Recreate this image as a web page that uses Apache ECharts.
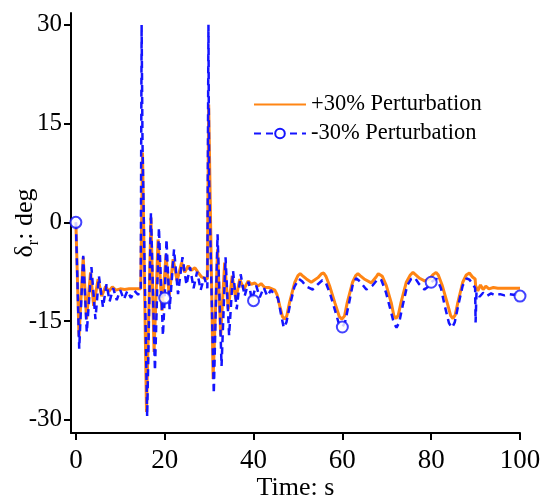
<!DOCTYPE html>
<html>
<head>
<meta charset="utf-8">
<script src="https://cdn.jsdelivr.net/npm/echarts@6/dist/echarts.min.js"></script>
<style>
html,body{margin:0;padding:0;background:#fff;}
#c{width:548px;height:501px;}
</style>
</head>
<body>
<div id="c"></div>
<script>
// ---- Data ----
var seriesNames = ['+30% Perturbation', '-30% Perturbation'];
var xTicks = [0, 20, 40, 60, 80, 100];
var yTicks = [-30, -15, 0, 15, 30];
var markerTimes = [0, 20, 40, 60, 80, 100];

var plusT = [0,0.7,1.65,2.4,3.3,4.0,5.0,5.8,6.7,7.4,8.2,9.0,10,11,12,13,14,14.6,15.0,15.9,16.9,17.6,18.5,19.4,20.3,21.0,21.9,22.8,23.8,24.5,25.3,26.0,26.8,27.5,28.3,29.0,29.6,29.9,30.9,31.9,32.6,33.5,34.3,35.2,36.0,36.9,37.8,38.8,39.5,40.3,41.0,41.7,42.5,43.5,44.8,45.3,45.9,46.5,47.0,47.5,48.1,49.3,50.0,50.5,51.0,51.9,53.0,54.5,55.3,55.8,56.3,57.1,58.3,59.3,59.9,60.5,61.1,62.3,63.0,63.5,64.0,64.9,66.5,67.6,68.1,68.5,69.0,69.9,71.0,71.6,72.1,72.6,73.2,74.4,75.3,75.9,76.4,77.4,78.5,79.6,80.5,81.1,81.6,82.5,83.6,84.4,84.9,85.4,86.0,87.1,87.9,88.6,89.3,89.9,90.0,90.5,91.1,91.7,92.3,93.0,94,95,97,100];
var plusV = [0,-17.3,-5.3,-14.7,-7.6,-12.7,-8.6,-11.2,-9.7,-10.5,-9.8,-10.3,-10.1,-10.2,-10.1,-10.1,-10.1,-10.1,10.6,-28.8,0.7,-19.7,-2.6,-13.4,-4.9,-11.2,-5.6,-8.9,-6.1,-7.6,-6.6,-7.3,-6.9,-7.6,-8.3,-8.5,-8.6,17.9,-23.8,-4.1,-17.2,-6.1,-13.2,-8.1,-11.7,-8.6,-10.2,-8.9,-9.4,-9.2,-9.7,-9.3,-9.9,-9.9,-10.3,-11.0,-12.7,-14.3,-14.7,-14.2,-12.2,-9.1,-8.1,-7.8,-8.1,-8.6,-9.1,-8.4,-7.8,-7.7,-8.2,-9.6,-12.2,-14.3,-14.7,-14.2,-12.2,-9.1,-8.1,-7.8,-8.1,-8.6,-9.2,-8.3,-7.8,-7.7,-8.2,-9.6,-12.2,-14.2,-14.6,-14.1,-12.2,-9.1,-8.0,-7.6,-7.9,-8.5,-8.9,-8.6,-7.9,-7.6,-8.0,-9.6,-12.2,-14.2,-14.6,-14.1,-12.2,-9.1,-8.0,-7.7,-8.3,-8.6,-9.6,-10.4,-9.5,-10.2,-9.7,-10.1,-9.9,-10.0,-10.0,-10.0];

var minusT = [0,0.75,1.65,2.45,3.5,4.4,5.2,6.1,6.9,7.6,8.4,9.2,10.0,10.8,11.6,12.4,13.2,14.0,14.6,14.8,15.0,16.05,16.9,17.8,18.7,19.6,20.0,20.4,21.1,22.1,23.0,24.0,24.9,25.7,26.5,27.3,28.1,28.9,29.6,29.85,30.0,31.05,31.9,32.8,33.7,34.5,35.4,36.2,37.1,38.0,38.9,39.6,40.0,40.6,41.4,42.3,43.1,43.9,44.8,45.5,46.2,46.8,47.4,48.2,49.2,50.2,51.0,52.0,53.3,54.5,55.5,56.3,57.3,58.4,59.3,60.0,60.6,61.4,62.3,63.1,64.0,65.4,66.8,68.0,68.8,69.8,70.8,71.6,72.2,72.8,73.6,74.6,75.5,76.3,77.3,78.5,79.3,80.0,80.6,81.3,82.2,83.1,84.0,84.7,85.3,86.1,87.1,88.0,88.6,89.4,89.9,90.0,90.2,90.9,91.7,92.5,93.5,94.5,95.5,96.5,97.5,98.5,99.2,100];
var minusV = [0,-19.2,-5.1,-16.7,-6.8,-14.7,-8.2,-12.9,-9.4,-12.0,-10.0,-11.8,-10.3,-11.7,-10.4,-11.5,-10.4,-11.0,-10.3,30,12,-29.5,1.5,-22.5,-0.8,-17.2,-11.5,-2.6,-13.2,-4.1,-10.9,-5.3,-9.5,-6.8,-10.0,-7.5,-10.3,-8.3,-10.0,30,6.3,-26,-1.8,-21.8,-5.3,-17.2,-7.4,-13.2,-7.9,-11.2,-9.0,-11.8,-11.9,-9.6,-11.4,-9.9,-11.2,-10.3,-11.0,-11.5,-14.0,-16.0,-15.2,-12.6,-9.8,-8.6,-9.0,-9.8,-10.2,-9.4,-8.8,-9.2,-11.0,-13.5,-15.6,-15.9,-15.2,-12.6,-9.6,-8.5,-9.0,-10.2,-9.6,-8.6,-8.8,-10.6,-13.2,-15.3,-16.0,-15.2,-12.6,-9.6,-8.6,-8.4,-9.4,-10.2,-9.8,-9.1,-8.8,-8.6,-10.0,-12.8,-15.3,-16.0,-15.2,-12.6,-9.6,-8.5,-8.7,-9.4,-10.0,-15.2,-10.6,-11.3,-10.7,-11.2,-10.8,-11.1,-10.9,-11.1,-10.9,-11.0,-11.0,-11.2];

// ---- Build chart ----
var font = "'Liberation Serif','Times New Roman',serif";
var blue = '#1414ff';
var orange = '#ff8514';
var plusData = plusT.map(function(t,i){ return [t, plusV[i]]; });
var minusData = minusT.map(function(t,i){ return [t, minusV[i]]; });
var markerData = minusT.map(function(t,i){ return [t, minusV[i]]; })
  .filter(function(p){ return markerTimes.indexOf(p[0]) >= 0; });

var chart = echarts.init(document.getElementById('c'), null, {renderer:'canvas'});
chart.setOption({
  animation:false,
  backgroundColor:'#fff',
  textStyle:{fontFamily:font},
  grid:{left:71, right:28, top:13, bottom:68, containLabel:false, outerBoundsMode:'none'},
  legend:{
    orient:'vertical', left:253, top:93, padding:0,
    itemWidth:52, itemHeight:12, itemGap:6,
    textStyle:{fontFamily:font, fontSize:22.5, color:'#000'},
    data:[
      {name:seriesNames[0], itemStyle:{opacity:0, color:'rgba(0,0,0,0)', borderWidth:0}},
      {name:seriesNames[1]}
    ]
  },
  xAxis:{
    type:'value', min:-1.1, max:100,
    name:'Time: s', nameLocation:'middle', nameGap:42, nameMoveOverlap:false,
    nameTextStyle:{fontFamily:font, fontSize:26, color:'#000'},
    axisLine:{show:true, onZero:false, lineStyle:{color:'#000', width:2}},
    axisTick:{show:true, length:7, lineStyle:{color:'#000', width:2}, customValues:xTicks},
    axisLabel:{fontFamily:font, fontSize:27, color:'#000', margin:14, customValues:xTicks},
    splitLine:{show:false}
  },
  yAxis:{
    type:'value', min:-32, max:31.8,
    name:'{a|δ}{b|r}{a|: deg}', nameLocation:'middle', nameGap:33, nameRotate:90, nameMoveOverlap:false,
    nameTextStyle:{fontFamily:font, fontSize:26, color:'#000',
      rich:{a:{fontFamily:font, fontSize:26, color:'#000'},
            b:{fontFamily:font, fontSize:16, color:'#000', verticalAlign:'bottom', padding:[0,0,-4,0]}}},
    axisLine:{show:true, onZero:false, lineStyle:{color:'#000', width:2}},
    axisTick:{show:true, length:7, lineStyle:{color:'#000', width:2}, customValues:yTicks},
    axisLabel:{fontFamily:font, fontSize:25, color:'#000', margin:9, customValues:yTicks},
    splitLine:{show:false}
  },
  series:[
    {
      name:seriesNames[0], type:'line', data:plusData,
      symbol:'none',
      lineStyle:{color:orange, width:3},
      itemStyle:{color:orange},
      z:2
    },
    {
      name:seriesNames[1], type:'line', data:minusData,
      symbol:'emptyCircle', symbolSize:11, showSymbol:false,
      lineStyle:{color:blue, width:2.5, type:[7,5]},
      itemStyle:{color:blue, borderWidth:1.5},
      z:3
    },
    {
      name:'markers', type:'scatter', data:markerData,
      symbol:'emptyCircle', symbolSize:11,
      itemStyle:{color:blue, borderColor:blue, borderWidth:1.5},
      z:4
    }
  ]
});
</script>
</body>
</html>
